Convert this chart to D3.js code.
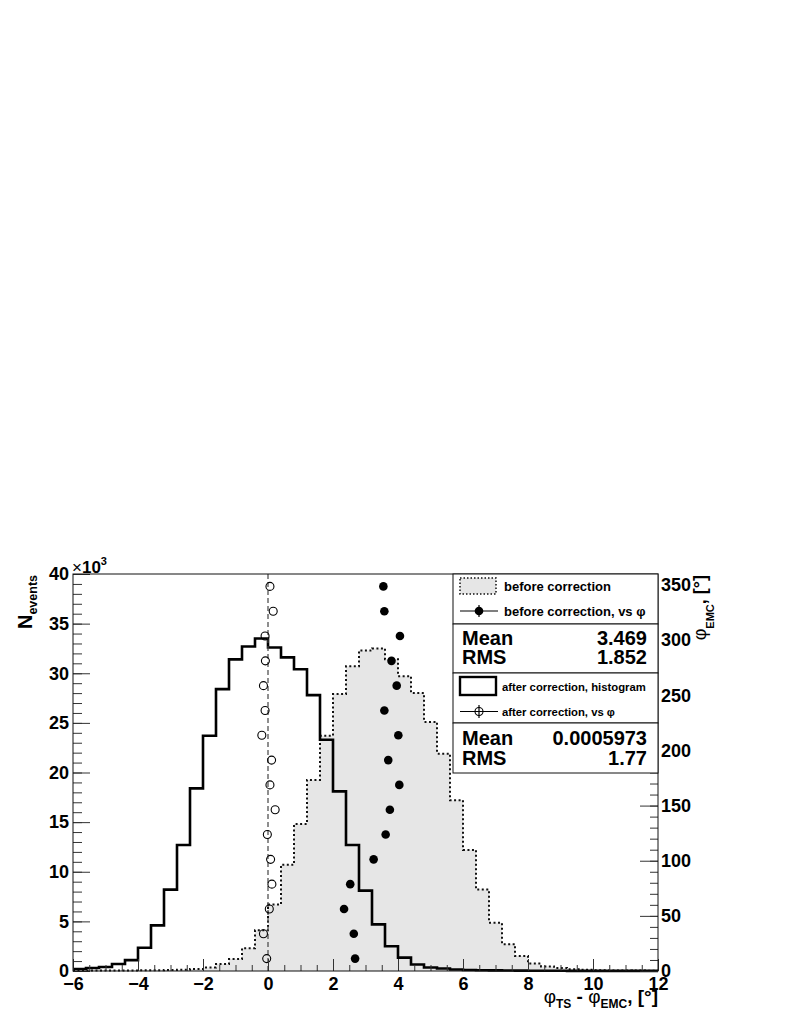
<!DOCTYPE html>
<html>
<head>
<meta charset="utf-8">
<script src="https://cdn.jsdelivr.net/npm/d3@7"></script>
<style>
  body { margin: 0; background: #fff; }
  svg { display: block; font-family: "Liberation Sans", Arial, Helvetica, sans-serif; font-weight: bold; }
</style>
</head>
<body>
<div id="chart"></div>
<script>
// ---- data ----
// histogram bins: 0.4 wide, lower edges from -6 to 11.6
const binLowEdges = [-6.0, -5.6, -5.2, -4.8, -4.4, -4.0, -3.6, -3.2, -2.8, -2.4, -2.0, -1.6, -1.2, -0.8, -0.4,
  0.0, 0.4, 0.8, 1.2, 1.6, 2.0, 2.4, 2.8, 3.2, 3.6, 4.0, 4.4, 4.8, 5.2, 5.6,
  6.0, 6.4, 6.8, 7.2, 7.6, 8.0, 8.4, 8.8, 9.2, 9.6, 10.0, 10.4, 10.8, 11.2, 11.6];
const binUpperEdge = 12;

// counts in thousands
const beforeCounts = [0.05, 0.05, 0.05, 0.05, 0.05, 0.08, 0.08, 0.1, 0.12, 0.2, 0.35, 0.7, 1.2, 2.3, 4.1,
  6.7, 10.7, 14.8, 19.25, 23.7, 27.9, 30.7, 32.3, 32.5, 31.4, 29.7, 28.0, 25.1, 21.9, 17.2,
  12.2, 8.2, 4.85, 2.7, 1.5, 0.75, 0.45, 0.3, 0.18, 0.12, 0.08, 0.06, 0.05, 0.04, 0.03];
const afterCounts = [0.2, 0.3, 0.4, 0.7, 1.1, 2.35, 4.6, 8.2, 12.7, 18.4, 23.7, 28.4, 31.4, 32.7, 33.5,
  32.6, 31.6, 30.4, 27.8, 23.3, 18.1, 12.7, 8.1, 4.7, 2.5, 1.35, 0.65, 0.35, 0.25, 0.15,
  0.1, 0.08, 0.06, 0.05, 0.04, 0.03, 0.02, 0.02, 0.01, 0.01, 0.01, 0.01, 0.01, 0.01, 0.01];

// mean offset per phi_EMC slice (right axis)
const phiSlices = [11.25, 33.75, 56.25, 78.75, 101.25, 123.75, 146.25, 168.75,
  191.25, 213.75, 236.25, 258.75, 281.25, 303.75, 326.25, 348.75];
const beforeVsPhi = [2.68, 2.64, 2.34, 2.53, 3.25, 3.62, 3.75, 4.04, 3.7, 4.01, 3.58, 3.96, 3.8, 4.06, 3.58, 3.55];
const afterVsPhi = [-0.04, -0.14, 0.04, 0.12, 0.08, -0.02, 0.22, 0.06, 0.11, -0.19, -0.09, -0.14, -0.08, -0.09, 0.16, 0.06];

const xMajorTicks = [-6, -4, -2, 0, 2, 4, 6, 8, 10, 12];
const yMajorTicks = [0, 5, 10, 15, 20, 25, 30, 35, 40];
const yRightMajorTicks = [0, 50, 100, 150, 200, 250, 300, 350];

const statsBefore = [["Mean", "3.469"], ["RMS", "1.852"]];
const statsAfter = [["Mean", "0.0005973"], ["RMS", "1.77"]];

// ---- layout ----
const W = 789, H = 1021;
const frame = { left: 73, right: 658, top: 574, bottom: 971 };

const svg = d3.select('#chart').append('svg')
  .attr('width', W)
  .attr('height', H);

const x = d3.scaleLinear().domain([-6, 12]).range([frame.left, frame.right]);
const y = d3.scaleLinear().domain([0, 40]).range([frame.bottom, frame.top]);
const yR = d3.scaleLinear().domain([0, 360]).range([frame.bottom, frame.top]);

const hist = (counts) => binLowEdges.map((e, i) => [e, counts[i]])
  .concat([[binUpperEdge, counts[counts.length - 1]]]);

// before: grey filled, dotted outline
svg.append('path')
  .datum(hist(beforeCounts))
  .attr('fill', '#e6e6e6')
  .attr('d', d3.area().curve(d3.curveStepAfter).x(d => x(d[0])).y0(y(0)).y1(d => y(d[1])));

svg.append('path')
  .datum(hist(beforeCounts))
  .attr('fill', 'none')
  .attr('stroke', '#111')
  .attr('stroke-width', 2)
  .attr('stroke-dasharray', '2,2.5')
  .attr('d', d3.line().curve(d3.curveStepAfter).x(d => x(d[0])).y(d => y(d[1])));

// after: thick solid outline
svg.append('path')
  .datum(hist(afterCounts))
  .attr('fill', 'none')
  .attr('stroke', '#000')
  .attr('stroke-width', 2.6)
  .attr('d', d3.line().curve(d3.curveStepAfter).x(d => x(d[0])).y(d => y(d[1])));

// dashed zero line
svg.append('line')
  .attr('x1', x(0)).attr('x2', x(0))
  .attr('y1', y(0)).attr('y2', frame.top)
  .attr('stroke', '#444')
  .attr('stroke-width', 1.2)
  .attr('stroke-dasharray', '5,3');

// points vs phi
svg.append('g').selectAll('circle')
  .data(phiSlices.map((p, i) => [beforeVsPhi[i], p]))
  .join('circle')
  .attr('cx', d => x(d[0]))
  .attr('cy', d => yR(d[1]))
  .attr('r', 4.3)
  .attr('fill', '#000');

svg.append('g').selectAll('circle')
  .data(phiSlices.map((p, i) => [afterVsPhi[i], p]))
  .join('circle')
  .attr('cx', d => x(d[0]))
  .attr('cy', d => yR(d[1]))
  .attr('r', 4)
  .attr('fill', 'none')
  .attr('stroke', '#000')
  .attr('stroke-width', 1.1);

// ---- axes ----
function styleAxis(g, size) {
  g.select('.domain').remove();
  g.selectAll('.tick line').attr('stroke', '#333').attr('stroke-width', 1);
  g.selectAll('.tick text')
    .attr('fill', '#000')
    .style('font-family', '"Liberation Sans", Arial, sans-serif')
    .style('font-weight', 'bold')
    .style('font-size', size + 'px');
}

// left y
svg.append('g')
  .attr('transform', `translate(${frame.left},0)`)
  .call(d3.axisLeft(y).tickValues(d3.range(0, 41, 1)).tickSize(-9).tickFormat(''))
  .call(g => styleAxis(g, 18));
svg.append('g')
  .attr('transform', `translate(${frame.left},0)`)
  .call(d3.axisLeft(y).tickValues(yMajorTicks).tickSizeInner(-17).tickSizeOuter(0).tickPadding(4))
  .call(g => styleAxis(g, 18));

// bottom x
svg.append('g')
  .attr('transform', `translate(0,${frame.bottom})`)
  .call(d3.axisBottom(x).tickValues(d3.range(-6, 12.01, 0.5)).tickSize(-6).tickFormat(''))
  .call(g => styleAxis(g, 18));
svg.append('g')
  .attr('transform', `translate(0,${frame.bottom})`)
  .call(d3.axisBottom(x).tickValues(xMajorTicks).tickSizeInner(-12).tickSizeOuter(0).tickPadding(6))
  .call(g => styleAxis(g, 18));

// right y (phi)
svg.append('g')
  .attr('transform', `translate(${frame.right},0)`)
  .call(d3.axisRight(yR).tickValues(d3.range(0, 361, 10)).tickSize(-8).tickFormat(''))
  .call(g => styleAxis(g, 18));
svg.append('g')
  .attr('transform', `translate(${frame.right},0)`)
  .call(d3.axisRight(yR).tickValues(yRightMajorTicks).tickSizeInner(-18).tickSizeOuter(0).tickPadding(3))
  .call(g => styleAxis(g, 18));

// frame
svg.append('rect')
  .attr('x', frame.left).attr('y', frame.top)
  .attr('width', frame.right - frame.left)
  .attr('height', frame.bottom - frame.top)
  .attr('fill', 'none')
  .attr('stroke', '#111')
  .attr('stroke-width', 1);

// x10^3
const mult = svg.append('text')
  .attr('x', frame.left - 1).attr('y', 573)
  .style('font-size', '17px');
mult.append('tspan').style('font-weight', 'normal').text('\u00d7');
mult.append('tspan').text('10');
mult.append('tspan').attr('dy', -8).style('font-size', '11px').text('3');

// axis titles
const yTitle = svg.append('text')
  .attr('transform', `translate(32,${frame.top + 1}) rotate(-90)`)
  .attr('text-anchor', 'end')
  .style('font-size', '20px');
yTitle.append('tspan').text('N');
yTitle.append('tspan').attr('dy', 5).style('font-size', '12.5px').text('events');

const xTitle = svg.append('text')
  .attr('x', frame.right).attr('y', 1003)
  .attr('text-anchor', 'end')
  .style('font-size', '19px');
xTitle.append('tspan').style('font-weight', 'normal').text('\u03c6');
xTitle.append('tspan').attr('dy', 5).style('font-size', '12px').text('TS');
xTitle.append('tspan').attr('dy', -5).text(' - ');
xTitle.append('tspan').style('font-weight', 'normal').text('\u03c6');
xTitle.append('tspan').attr('dy', 5).style('font-size', '12px').text('EMC');
xTitle.append('tspan').attr('dy', -5).text(', [\u00b0]');

const rTitle = svg.append('text')
  .attr('transform', `translate(706,${frame.top + 1}) rotate(-90)`)
  .attr('text-anchor', 'end')
  .style('font-size', '18px');
rTitle.append('tspan').style('font-weight', 'normal').text('\u03c6');
rTitle.append('tspan').attr('dy', 8).style('font-size', '11px').text('EMC');
rTitle.append('tspan').attr('dy', -8).text(', [\u00b0]');

// ---- legend / stats boxes ----
const lg = { left: 453, right: frame.right, rows: [574, 624, 673, 723, 773] };

svg.append('g').selectAll('rect')
  .data(d3.pairs(lg.rows))
  .join('rect')
  .attr('x', lg.left).attr('y', d => d[0])
  .attr('width', lg.right - lg.left)
  .attr('height', d => d[1] - d[0])
  .attr('fill', '#fff')
  .attr('stroke', '#111')
  .attr('stroke-width', 1);

// before correction entries
svg.append('rect')
  .attr('x', 460).attr('y', 578).attr('width', 36).attr('height', 16)
  .attr('fill', '#e6e6e6').attr('stroke', '#111').attr('stroke-width', 1.5)
  .attr('stroke-dasharray', '1.5,2');
svg.append('line').attr('x1', 460).attr('x2', 498).attr('y1', 611).attr('y2', 611)
  .attr('stroke', '#000').attr('stroke-width', 1.2);
svg.append('line').attr('x1', 479).attr('x2', 479).attr('y1', 605).attr('y2', 617)
  .attr('stroke', '#000').attr('stroke-width', 1.2);
svg.append('circle').attr('cx', 479).attr('cy', 611).attr('r', 4.3).attr('fill', '#000');

svg.append('text').attr('x', 504).attr('y', 591).style('font-size', '13px').text('before correction');
svg.append('text').attr('x', 504).attr('y', 615.5).style('font-size', '13px').text('before correction, vs \u03c6');

// after correction entries
svg.append('rect')
  .attr('x', 460).attr('y', 677).attr('width', 36).attr('height', 18)
  .attr('fill', '#fff').attr('stroke', '#000').attr('stroke-width', 2.4);
svg.append('line').attr('x1', 460).attr('x2', 498).attr('y1', 711.5).attr('y2', 711.5)
  .attr('stroke', '#000').attr('stroke-width', 1.2);
svg.append('line').attr('x1', 479).attr('x2', 479).attr('y1', 705).attr('y2', 718)
  .attr('stroke', '#000').attr('stroke-width', 1.2);
svg.append('circle').attr('cx', 479).attr('cy', 711.5).attr('r', 4)
  .attr('fill', 'none').attr('stroke', '#000').attr('stroke-width', 1.1);

svg.append('text').attr('x', 502).attr('y', 690.5).style('font-size', '11.3px').text('after correction, histogram');
svg.append('text').attr('x', 502).attr('y', 715.5).style('font-size', '11.3px').text('after correction, vs \u03c6');

// stats
function drawStats(rows, baselines) {
  rows.forEach((r, i) => {
    svg.append('text').attr('x', 462).attr('y', baselines[i]).style('font-size', '20px').text(r[0]);
    svg.append('text').attr('x', 647).attr('y', baselines[i]).attr('text-anchor', 'end')
      .style('font-size', '20px').text(r[1]);
  });
}
drawStats(statsBefore, [645, 664]);
drawStats(statsAfter, [745, 765]);
</script>
</body>
</html>
